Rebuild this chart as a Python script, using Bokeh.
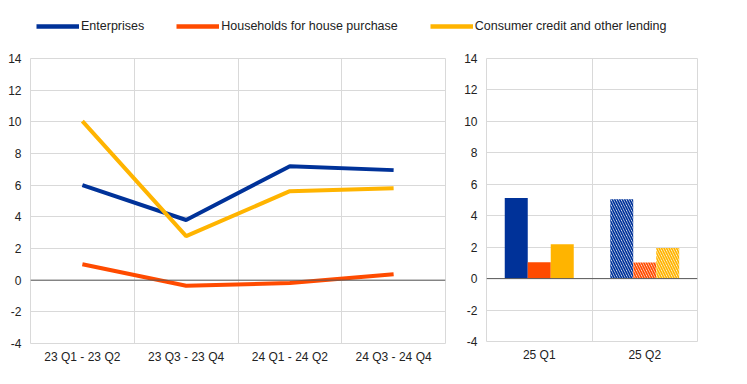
from bokeh.plotting import figure
from bokeh.layouts import column, row
from bokeh.models import (ColumnDataSource, FactorRange, Range1d, FixedTicker,
                          Span, Legend, LegendItem, CDSView, IndexFilter)
from bokeh.transform import dodge
from bokeh.embed import file_html
from bokeh.resources import INLINE

# ---- data ----
periods = ["23 Q1 - 23 Q2", "23 Q3 - 23 Q4", "24 Q1 - 24 Q2", "24 Q3 - 24 Q4"]
enterprises = [6.0, 3.8, 7.2, 6.95]
households = [1.0, -0.35, -0.18, 0.37]
consumer = [10.05, 2.78, 5.62, 5.8]

quarters = ["25 Q1", "25 Q2"]
ent_q = [5.13, 5.05]
hh_q = [1.04, 1.02]
cons_q = [2.19, 1.94]

series_names = ["Enterprises", "Households for house purchase",
                "Consumer credit and other lending"]
colors = ["#003299", "#FF4B00", "#FFB400"]
y_ticks = [-4, -2, 0, 2, 4, 6, 8, 10, 12, 14]
y_tick_labels = ["-4", "-2", "0", "2", "4", "6", "8", "10", "12", "14"]

FONT = "Liberation Sans"
GRID = "#d9d9d9"
TXT = "#222222"


def style(p):
    p.outline_line_color = GRID
    p.outline_line_width = 1
    p.ygrid.ticker = FixedTicker(ticks=y_ticks)
    p.ygrid.grid_line_color = GRID
    for ax in [p.xaxis[0], p.yaxis[0]]:
        ax.axis_line_color = None
        ax.major_tick_line_color = None
        ax.minor_tick_line_color = None
        ax.major_tick_out = 0
        ax.major_tick_in = 0
        ax.minor_tick_out = 0
        ax.major_label_text_font = FONT
        ax.major_label_text_font_size = "12px"
        ax.major_label_text_color = TXT
    p.yaxis[0].ticker = FixedTicker(ticks=y_ticks)
    p.yaxis[0].major_label_overrides = dict(zip(y_ticks, y_tick_labels))
    p.yaxis[0].major_label_standoff = 9
    p.xaxis[0].major_label_standoff = 6
    p.add_layout(Span(location=0, dimension="width", line_color="#595959",
                      line_width=1))


src = ColumnDataSource(dict(period=periods, ent=enterprises, hh=households,
                            cons=consumer))

# ---- legend figure (lines kept out of view, only the legend shows) ----
lg = figure(width=739, height=36, x_range=FactorRange(*periods),
            y_range=Range1d(100, 101),
            toolbar_location=None, output_backend="svg",
            min_border_left=0, min_border_right=0, min_border_top=0,
            min_border_bottom=0)
lg.axis.visible = False
lg.grid.visible = False
lg.outline_line_color = None
items = []
for name, col, c in zip(series_names, ["ent", "hh", "cons"], colors):
    r = lg.line(x="period", y=col, source=src, line_color=c, line_width=4.5)
    items.append(LegendItem(label=name, renderers=[r]))
legend = Legend(items=items, orientation="horizontal", location=(36, 0),
                glyph_width=43, glyph_height=20, label_height=20,
                label_standoff=2, spacing=32, padding=0, margin=0,
                border_line_color=None, background_fill_alpha=0,
                label_text_font=FONT, label_text_font_size="12.5px",
                label_text_color=TXT)
lg.add_layout(legend)

# ---- left line chart ----
p1 = figure(frame_width=415, frame_height=285, x_range=FactorRange(*periods),
            y_range=Range1d(-4, 14), toolbar_location=None,
            output_backend="svg", min_border_left=30, min_border_right=16,
            min_border_top=21, min_border_bottom=24)
style(p1)
p1.x_range.range_padding = 0
p1.xgrid.ticker = FixedTicker(ticks=[1, 2, 3])
p1.xgrid.grid_line_color = GRID
for col, c in zip(["ent", "hh", "cons"], colors):
    p1.line(x="period", y=col, source=src, line_color=c, line_width=4)

# ---- right bar chart ----
bsrc = ColumnDataSource(dict(q=quarters, ent=ent_q, hh=hh_q, cons=cons_q))
p2 = figure(frame_width=211, frame_height=283, x_range=FactorRange(*quarters),
            y_range=Range1d(-4, 14), toolbar_location=None,
            output_backend="svg", min_border_left=21, min_border_right=10,
            min_border_top=22, min_border_bottom=25)
style(p2)
p2.x_range.range_padding = 0
p2.xgrid.ticker = FixedTicker(ticks=[1])
p2.xgrid.grid_line_color = GRID
w = 0.218
offsets = [-w, 0, w]
for col, c, off in zip(["ent", "hh", "cons"], colors, offsets):
    p2.vbar(x=dodge("q", off, range=p2.x_range), top=col, width=w,
            source=bsrc, view=CDSView(filter=IndexFilter([0])),
            fill_color=c, line_color=None)
    p2.vbar(x=dodge("q", off, range=p2.x_range), top=col, width=w,
            source=bsrc, view=CDSView(filter=IndexFilter([1])),
            fill_color="white", line_color=None,
            hatch_pattern="left_diagonal_line",
            hatch_color=c, hatch_scale=5, hatch_weight=1.7)

layout = column(lg, row(p1, p2))
open("out.html", "w").write(file_html(layout, INLINE))
